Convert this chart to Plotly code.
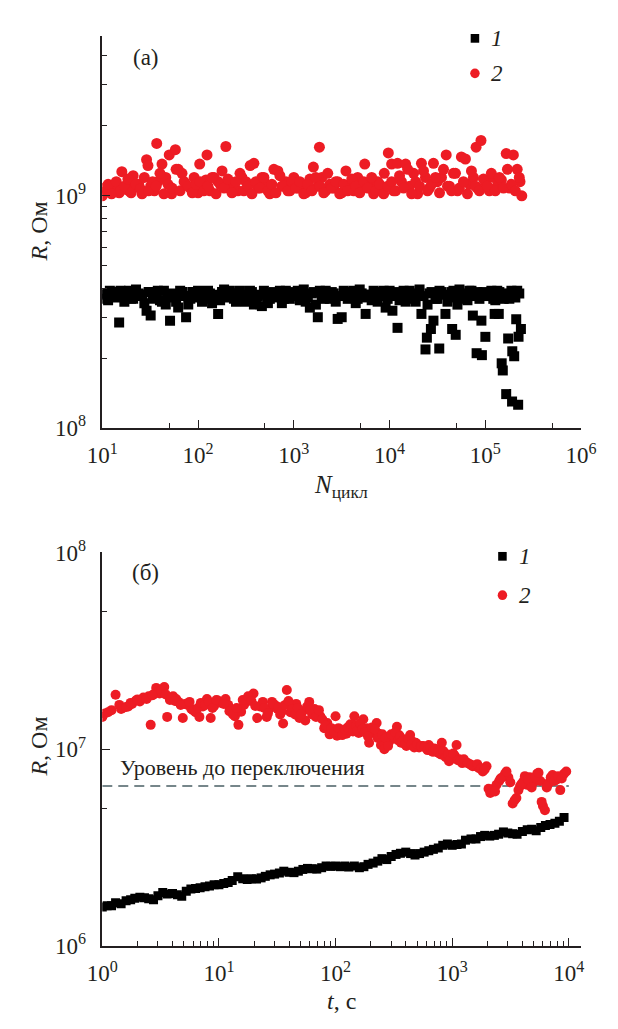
import plotly.graph_objects as go

# ---------------- (a) resistance vs. number of switching cycles ----------------
# state 1 (low-resistance), R in units of 1e8 Ohm
N_1 = [10, 11, 12, 13, 15, 16, 18, 19, 21, 24, 26, 29, 32, 35, 38, 42, 46, 51, 56, 62, 68, 75, 83, 91,
       100, 110, 121, 133, 147, 162, 178, 196, 215, 237, 261, 287, 316, 348, 383, 422, 464, 511, 562, 619,
       681, 750, 825, 909,
       1000, 1100, 1210, 1330, 1470, 1620, 1780, 1960, 2150, 2370, 2610, 2870, 3160, 3480, 3830, 4220, 4640,
       5110, 5620, 6190, 6810, 7500, 8250, 9090,
       10000, 10700, 11000, 12100, 13300, 14700, 16200, 17800, 19600, 21500, 23700, 24500, 26100, 27000,
       28700, 31600, 33000, 34800, 38300, 42200, 45000, 46400, 49000, 51100, 56200, 61900, 68100, 74000,
       75000, 81000, 82500, 90900, 92000,
       100000, 110000, 121000, 125000, 133000, 138000, 147000, 148000, 152000, 162000, 165000, 173000,
       178000, 190000, 191000, 196000, 200000, 210000, 215000, 220000, 222000, 235000,
       # intermediate cycles
       10.5, 11.5, 12.5, 14, 15.5, 17, 18.5, 20, 22.5, 25, 27.5, 30.5, 33.5, 36.5, 40, 44, 48.5, 53.5, 59,
       65, 71.5, 79, 87, 95.5,
       105, 115, 127, 140, 154, 170, 187, 205, 226, 249, 274, 301, 332, 365, 402, 443, 487, 536, 590, 650,
       715, 787, 867, 954,
       1050, 1155, 1270, 1400, 1545, 1700, 1870, 2055, 2260, 2490, 2740, 3015, 3320, 3655, 4025, 4430, 4875,
       5365, 5905, 6500, 7155, 7875, 8670, 9545,
       10500, 11550, 12700, 14000, 15450, 17000, 18700, 20550, 22600, 24900, 27400, 30150, 33200, 36550,
       40250, 44300, 48750, 53650, 59050, 65000, 71550, 78750, 86700, 95450,
       105000, 115500, 127000, 140000, 154500, 170000, 187000, 205500, 226000]
R_1 = [3.6, 3.8, 3.9, 3.7, 2.85, 3.85, 3.7, 3.9, 3.6, 3.8, 3.75, 3.2, 3.05, 3.8, 3.9, 3.5, 3.4, 2.9, 3.7,
       3.3, 3.85, 3.0, 3.6, 3.8,
       3.9, 3.5, 3.7, 3.8, 3.6, 3.1, 3.85, 3.7, 3.9, 3.6, 3.8, 3.75, 3.5, 3.9, 3.4, 3.7, 3.35, 3.8, 3.6,
       3.85, 3.7, 3.45, 3.9, 3.6,
       3.8, 3.9, 3.7, 3.5, 3.3, 3.85, 3.0, 3.7, 3.9, 3.6, 3.8, 2.95, 3.0, 3.85, 3.7, 3.9, 3.6, 3.8, 3.1,
       3.75, 3.9, 3.5, 3.8, 3.3,
       3.9, 3.2, 3.7, 2.7, 3.8, 3.5, 3.9, 3.6, 3.75, 3.1, 2.18, 2.45, 3.8, 2.67, 2.9, 3.6, 2.2, 3.85, 3.1,
       3.7, 2.67, 3.9, 2.52, 3.4, 3.8, 3.6, 3.9, 3.05, 3.7, 2.1, 3.85, 2.9, 2.06,
       2.47, 3.8, 3.6, 3.1, 3.9, 3.1, 3.7, 1.9, 1.77, 3.8, 1.4, 2.43, 3.6, 1.3, 2.14, 3.85, 2.04, 2.94,
       3.9, 1.26, 2.47, 2.67,
       # intermediate cycles
       3.75, 3.55, 3.85, 3.65, 3.9, 3.5, 3.8, 3.6, 3.95, 3.7, 3.45, 3.85, 3.6, 3.75, 3.55, 3.9, 3.65, 3.8,
       3.5, 3.9, 3.7, 3.4, 3.85, 3.65,
       3.8, 3.6, 3.9, 3.45, 3.75, 3.55, 3.95, 3.65, 3.8, 3.5, 3.9, 3.7, 3.6, 3.85, 3.55, 3.75, 3.9, 3.45,
       3.8, 3.65, 3.9, 3.6, 3.75, 3.85,
       3.7, 3.55, 3.95, 3.65, 3.8, 3.4, 3.9, 3.6, 3.75, 3.85, 3.5, 3.7, 3.9, 3.6, 3.8, 3.45, 3.95, 3.65,
       3.75, 3.55, 3.85, 3.7, 3.9, 3.6,
       3.75, 3.85, 3.55, 3.9, 3.65, 3.8, 3.5, 3.95, 3.7, 3.4, 3.85, 3.6, 3.9, 3.75, 3.5, 3.85, 3.65, 3.95,
       3.7, 3.55, 3.9, 3.8, 3.6, 3.85,
       3.7, 3.9, 3.55, 3.85, 3.6, 3.75, 3.9, 3.65, 3.8]

# state 2 (high-resistance), R in units of 1e9 Ohm
N_2 = [10, 11, 12, 13, 15, 16, 18, 19, 21, 24, 26, 29, 30, 32, 35, 37, 38, 42, 46, 50, 53, 58, 62, 68,
       75, 83, 91,
       100, 104, 110, 121, 124, 133, 147, 162, 178, 195, 215, 237, 261, 287, 316, 350, 383, 422, 464, 511,
       562, 619, 681, 750, 825, 909,
       1000, 1100, 1210, 1330, 1470, 1600, 1780, 1850, 1960, 2150, 2370, 2610, 2870, 3160, 3500, 3830, 4220,
       4640, 5110, 5500, 6190, 6810, 7500, 8250, 8800, 9700,
       10000, 10500, 11000, 12100, 13300, 14700, 16200, 17800, 19600, 21500, 23700, 26100, 28700, 31600,
       34800, 39000, 42200, 46400, 51100, 56200, 61900, 68100, 75000, 80000, 82500, 90000,
       100000, 110000, 121000, 133000, 147000, 165000, 178000, 196000, 215000, 230000, 240000,
       # intermediate cycles
       10.5, 11.5, 12.5, 14, 15.5, 17, 18.5, 20, 22.5, 25, 27.5, 30.5, 33.5, 36.5, 40, 44, 48.5, 53.5, 59,
       65, 71.5, 79, 87, 95.5,
       105, 115, 127, 140, 154, 170, 187, 205, 226, 249, 274, 301, 332, 365, 402, 443, 487, 536, 590, 650,
       715, 787, 867, 954,
       1050, 1155, 1270, 1400, 1545, 1700, 1870, 2055, 2260, 2490, 2740, 3015, 3320, 3655, 4025, 4430, 4875,
       5365, 5905, 6500, 7155, 7875, 8670, 9545,
       10500, 11550, 12700, 14000, 15450, 17000, 18700, 20550, 22600, 24900, 27400, 30150, 33200, 36550,
       40250, 44300, 48750, 53650, 59050, 65000, 71550, 78750, 86700, 95450,
       105000, 115500, 127000, 140000, 154500, 170000, 187000, 205500, 226000]
R_2 = [1.0, 1.05, 1.1, 1.08, 1.03, 1.27, 1.1, 1.05, 1.22, 1.12, 1.02, 1.43, 1.35, 1.1, 1.05, 1.68, 1.15,
       1.37, 1.2, 1.5, 1.02, 1.58, 1.3, 1.25, 1.12, 1.08, 1.2,
       1.03, 1.37, 1.1, 1.17, 1.5, 1.05, 1.2, 1.15, 1.28, 1.63, 1.07, 1.1, 1.05, 1.2, 1.15, 1.35, 1.38, 1.08,
       1.2, 1.12, 1.02, 1.3, 1.28, 1.1, 1.15, 1.05,
       1.2, 1.08, 1.12, 1.03, 1.18, 1.33, 1.1, 1.62, 1.2, 1.05, 1.12, 1.08, 1.15, 1.03, 1.28, 1.1, 1.05, 1.2,
       1.08, 1.37, 1.12, 1.02, 1.15, 1.05, 1.25, 1.53,
       1.1, 1.37, 1.05, 1.38, 1.15, 1.37, 1.1, 1.25, 1.02, 1.38, 1.2, 1.08, 1.38, 1.15, 1.2, 1.5, 1.1, 1.25,
       1.05, 1.47, 1.44, 1.12, 1.2, 1.62, 1.08, 1.73,
       1.15, 1.05, 1.2, 1.1, 1.17, 1.52, 1.08, 1.5, 1.3, 1.15, 1.0,
       # intermediate cycles
       1.08, 1.12, 1.02, 1.15, 1.05, 1.1, 1.18, 1.03, 1.12, 1.07, 1.2, 1.05, 1.15, 1.1, 1.25, 1.02, 1.12,
       1.08, 1.3, 1.05, 1.15, 1.1, 1.03, 1.12,
       1.15, 1.05, 1.1, 1.2, 1.02, 1.12, 1.08, 1.18, 1.03, 1.15, 1.25, 1.05, 1.1, 1.02, 1.15, 1.08, 1.2,
       1.05, 1.12, 1.03, 1.22, 1.1, 1.05, 1.15,
       1.08, 1.15, 1.02, 1.12, 1.05, 1.2, 1.1, 1.03, 1.25, 1.08, 1.15, 1.02, 1.12, 1.05, 1.18, 1.1, 1.03,
       1.15, 1.08, 1.2, 1.05, 1.12, 1.02, 1.1,
       1.15, 1.05, 1.22, 1.08, 1.3, 1.02, 1.15, 1.1, 1.28, 1.05, 1.12, 1.2, 1.03, 1.3, 1.1, 1.05, 1.25,
       1.08, 1.15, 1.02, 1.28, 1.1, 1.05, 1.18,
       1.1, 1.25, 1.05, 1.2, 1.08, 1.3, 1.12, 1.05, 1.2]

# ---------------- (б) resistance vs. time ----------------
# state 1, R in units of 1e6 Ohm
t_1 = [1.0, 1.1, 1.2, 1.3, 1.45, 1.6, 1.75, 1.9, 2.1, 2.3, 2.5, 2.75, 3.0, 3.3, 3.6, 4.0, 4.4, 4.8, 5.25,
       5.75, 6.3, 6.9, 7.6, 8.3, 9.1,
       10, 11, 12, 13, 14.5, 16, 17.5, 19, 21, 23, 25, 27.5, 30, 33, 36, 40, 44, 48, 52.5, 57.5, 63, 69, 76,
       83, 91,
       100, 110, 120, 130, 145, 160, 175, 190, 210, 230, 250, 275, 300, 330, 360, 400, 440, 480, 525, 575,
       630, 690, 760, 830, 910,
       1000, 1100, 1200, 1300, 1450, 1600, 1750, 1900, 2100, 2300, 2500, 2750, 3000, 3300, 3600, 4000, 4400,
       4800, 5250, 5750, 6300, 6900, 7600, 8300, 9100]
Rt_1 = [1.58, 1.6, 1.6, 1.66, 1.64, 1.7, 1.72, 1.75, 1.77, 1.76, 1.74, 1.72, 1.8, 1.87, 1.84, 1.85, 1.82,
        1.79, 1.9, 1.95, 1.96, 1.98, 2.0, 2.02, 2.05,
        2.05, 2.08, 2.1, 2.15, 2.25, 2.2, 2.18, 2.2, 2.19, 2.22, 2.26, 2.3, 2.32, 2.35, 2.4, 2.37, 2.36, 2.4,
        2.45, 2.48, 2.47, 2.46, 2.5, 2.55, 2.54,
        2.55, 2.53, 2.55, 2.52, 2.55, 2.5, 2.53, 2.6, 2.64, 2.7, 2.78, 2.75, 2.85, 2.92, 2.96, 3.0, 2.95, 2.9,
        2.95, 3.0, 3.05, 3.1, 3.15, 3.25, 3.3,
        3.25, 3.28, 3.3, 3.45, 3.5, 3.5, 3.6, 3.65, 3.62, 3.65, 3.7, 3.8, 3.75, 3.72, 3.7, 3.82, 3.9, 3.92,
        3.85, 4.0, 4.1, 4.15, 4.2, 4.3, 4.5]

# state 2, R in units of 1e6 Ohm
t_2 = [1.0, 1.05, 1.12, 1.3, 1.45, 1.5, 1.67, 1.8, 1.94, 2.1, 2.25, 2.5, 2.6, 2.75, 2.9, 3.0, 3.1, 3.25,
       3.4, 3.6, 3.8, 4.05, 4.3, 4.5, 4.9, 5.1, 5.4, 5.8, 6.3, 6.8, 7.3, 7.9, 8.5, 9.1, 9.8,
       10.5, 11.4, 12.0, 12.7, 13.7, 14.7, 15.5, 16.4, 17.3, 18.3, 19.8, 21.3, 22.5, 23.8, 25.7, 27, 28.5,
       30, 31.8, 33.5, 35.5, 38.2, 41, 44, 46, 49, 52, 55, 59.5, 63, 66, 70, 74, 80, 85, 89, 95,
       100, 103, 110, 117, 124, 130, 138, 145, 158, 165, 173, 185, 194, 200, 212, 225, 235, 245, 262, 275,
       290, 312, 336, 350, 364, 385, 405, 436, 460, 487, 520, 563, 600, 630, 665, 703, 740, 787, 815, 860,
       900, 940,
       1000, 1050, 1090, 1150, 1220, 1300, 1420, 1500, 1580, 1700, 1830, 1970, 2120, 2200, 2270, 2400, 2530,
       2700, 2840, 3030, 3300, 3550, 3820, 4100, 4350, 4620, 5000, 5350, 5700, 6000, 6240, 6470, 6800,
       7250, 7800, 8450, 9100, 9500,
       # intermediate readings
       1.2, 1.4, 1.6, 1.75, 2.0, 2.4, 2.7, 3.2, 3.5, 3.9,
       4.2, 4.7, 5.6, 6.0, 6.6, 7.0, 7.6, 8.2, 8.8, 9.5,
       11.0, 12.3, 13.2, 14.2, 16.0, 17.8, 19.0, 20.5, 24.5, 26.3,
       29.2, 32.5, 34.5, 37, 39.5, 42.5, 45, 47.5, 50.5, 57,
       61, 68, 72, 77, 82, 92, 98, 106, 114, 120,
       127, 134, 141, 150, 154, 162, 170, 178, 190, 205,
       218, 230, 252, 268, 282, 300, 325, 343, 357, 375,
       395, 420, 448, 473, 500, 540, 580, 615, 650, 685,
       720, 760, 800, 840, 880, 920, 970, 1020, 1120, 1180,
       1260, 1360, 1460, 1640, 1760, 1900, 2050, 2330, 2600, 2920,
       3150, 3430, 3700, 3950, 4200, 4480, 4800, 5150, 5500, 5850,
       6600, 7000, 7500, 8100, 8700]
Rt_2 = [14.6, 15.2, 15.4, 18.9, 16.0, 16.2, 16.5, 17.0, 17.7, 17.5, 18.3, 18.6, 13.3, 19.0, 20.5, 19.5,
        19.2, 20.0, 20.7, 14.6, 17.8, 18.6, 18.0, 17.4, 14.4, 17.0, 16.8, 16.0, 15.4, 14.6, 16.5, 18.0,
        14.4, 16.6, 17.7,
        17.2, 18.0, 16.8, 16.0, 14.7, 13.3, 15.5, 16.8, 17.5, 18.3, 19.2, 14.4, 16.5, 17.4, 14.6, 16.0,
        17.4, 16.8, 16.0, 15.0, 13.5, 20.0, 15.4, 16.5, 17.0, 14.4, 15.5, 14.0, 17.4, 15.0, 16.0, 15.2,
        14.7, 12.8, 13.6, 11.9, 12.5,
        14.7, 11.7, 12.2, 12.4, 12.0, 13.0, 12.6, 14.7, 12.1, 13.0, 14.2, 12.8, 10.8, 12.1, 12.5, 13.6,
        12.0, 10.5, 10.0, 11.3, 11.0, 11.5, 13.0, 11.8, 10.8, 11.2, 10.4, 11.8, 10.9, 10.8, 10.2, 10.4,
        10.1, 10.5, 9.8, 10.1, 9.9, 9.5, 10.8, 9.3, 9.2, 8.7,
        9.0, 9.3, 10.5, 8.9, 8.5, 8.6, 8.4, 8.2, 8.2, 8.0, 7.7, 8.2, 6.0, 6.2, 6.3, 6.6, 6.9, 7.2, 7.5,
        7.2, 5.3, 5.65, 6.5, 6.9, 6.6, 7.2, 6.8, 7.5, 6.9, 5.15, 4.9, 6.4, 6.8, 7.4, 7.0, 6.2, 7.5, 7.7,
        # intermediate readings
        15.8, 16.8, 16.4, 17.2, 17.9, 18.0, 18.8, 19.8, 19.0, 18.2,
        17.6, 16.8, 17.4, 15.8, 16.2, 17.2, 16.8, 17.4, 16.2, 17.8,
        17.0, 15.6, 15.0, 16.2, 17.8, 18.6, 17.6, 16.6, 16.2, 15.2,
        17.0, 16.4, 15.5, 16.8, 17.6, 16.0, 15.0, 16.2, 15.0, 16.5,
        15.8, 14.6, 15.8, 14.2, 13.2, 12.8, 12.2, 12.8, 11.8, 12.6,
        12.9, 13.4, 12.3, 13.2, 12.5, 13.5, 12.7, 12.2, 11.6, 12.9,
        12.6, 11.4, 11.9, 11.4, 10.4, 11.9, 12.2, 11.1, 11.6, 11.0,
        10.6, 11.3, 10.6, 10.2, 10.6, 10.4, 10.3, 9.9, 10.2, 9.7,
        10.0, 9.6, 9.4, 9.8, 9.1, 9.4, 8.9, 9.5, 8.8, 8.7,
        8.9, 8.5, 8.3, 8.4, 8.0, 7.9, 6.3, 6.1, 7.1, 7.7,
        6.8, 5.5, 6.2, 6.7, 7.3, 7.0, 6.4, 7.2, 7.6, 5.4,
        6.6, 7.2, 6.9, 7.3, 7.1]

# resistance level before switching (dashed reference line)
R_before = 6.5e6
t_line = [1, 1e4]

SERIES_1 = "1"
SERIES_2 = "2"
PANEL_A = "(a)"
PANEL_B = "(б)"
LEVEL_TEXT = "Уровень до переключения"

# ---------------- styling ----------------
W, H = 618, 1029
FONT = "Liberation Serif, Times New Roman, DejaVu Serif, serif"
INK = "#231f20"
RED = "#ED1C24"
BLACK = "#000000"


def px(x):
    return x / W


def py(y):
    return 1 - y / H


def sup(k):
    return f"10<sup>{k}</sup>"


fig = go.Figure()

fig.add_trace(go.Scatter(x=N_1, y=[v * 1e8 for v in R_1], mode="markers", name=SERIES_1,
                         marker=dict(symbol="square", size=10, color=BLACK),
                         xaxis="x", yaxis="y", showlegend=False))
fig.add_trace(go.Scatter(x=N_2, y=[v * 1e9 for v in R_2], mode="markers", name=SERIES_2,
                         marker=dict(symbol="circle", size=11, color=RED),
                         xaxis="x", yaxis="y", showlegend=False))

fig.add_trace(go.Scatter(x=t_line, y=[R_before, R_before], mode="lines",
                         line=dict(color="#76868a", width=2, dash="10px,6px"),
                         xaxis="x2", yaxis="y2", showlegend=False, hoverinfo="skip"))
fig.add_trace(go.Scatter(x=t_2, y=[v * 1e6 for v in Rt_2], mode="markers", name=SERIES_2,
                         marker=dict(symbol="circle", size=10, color=RED),
                         xaxis="x2", yaxis="y2", showlegend=False))
fig.add_trace(go.Scatter(x=t_1, y=[v * 1e6 for v in Rt_1], mode="markers", name=SERIES_1,
                         marker=dict(symbol="square", size=9, color=BLACK),
                         xaxis="x2", yaxis="y2", showlegend=False))

axis_common = dict(type="log", showline=True, linecolor=INK, linewidth=1.5, showgrid=False,
                   zeroline=False, ticks="inside", ticklen=8, tickwidth=1.3, tickcolor=INK,
                   tickmode="array", tickfont=dict(family=FONT, size=23, color=INK))

x_dom = [px(91), px(596)]

fig.update_layout(
    width=W, height=H, autosize=False,
    margin=dict(l=0, r=0, t=0, b=0),
    paper_bgcolor="white", plot_bgcolor="white",
    font=dict(family=FONT, size=22, color=INK),
    xaxis=dict(axis_common, domain=x_dom, range=[1, 6], anchor="y",
               tickvals=[10 ** k for k in range(1, 7)], ticktext=[sup(k) for k in range(1, 7)],
               ticklabelstandoff=6,
               minor=dict(ticks="inside", ticklen=5, tickwidth=1.2, tickcolor=INK,
                          tickmode="array", tickvals=[5 * 10 ** k for k in range(1, 6)])),
    yaxis=dict(axis_common, domain=[py(424), py(21)], range=[8, 8 + (424 - 21) / 239], anchor="x",
               tickvals=[1e8, 1e9], ticktext=[sup(8), sup(9)], ticklabelstandoff=10,
               minor=dict(ticks="inside", ticklen=5, tickwidth=1.2, tickcolor=INK, tickmode="array",
                          tickvals=[m * 1e8 for m in range(2, 10)] + [m * 1e9 for m in range(2, 5)])),
    xaxis2=dict(axis_common, domain=x_dom, range=[0, (596 - 91) / 123], anchor="y2",
                tickvals=[10 ** k for k in range(0, 5)], ticktext=[sup(k) for k in range(0, 5)],
                ticklabelstandoff=6,
                minor=dict(ticks="inside", ticklen=5, tickwidth=1.2, tickcolor=INK, tickmode="array",
                           tickvals=[m * 10 ** k for k in range(0, 4) for m in range(2, 10)])),
    yaxis2=dict(axis_common, domain=[py(957), py(552)], range=[6, 8], anchor="x2",
                tickvals=[1e6, 1e7, 1e8], ticktext=[sup(6), sup(7), sup(8)], ticklabelstandoff=10,
                minor=dict(ticks="inside", ticklen=5, tickwidth=1.2, tickcolor=INK, tickmode="array",
                           tickvals=[5e6, 5e7])),
)

ann = []


def text(x, y, s, size=22, xanchor="center", angle=0):
    ann.append(dict(x=px(x), y=py(y), xref="paper", yref="paper", text=s, showarrow=False,
                    xanchor=xanchor, yanchor="middle", textangle=angle,
                    font=dict(family=FONT, size=size, color=INK)))


# axis titles
text(24, 222, "<i>R</i>, Ом", size=24, angle=-90)
text(24, 752, "<i>R</i>, Ом", size=24, angle=-90)
text(343, 484, "<i>N</i><sub>цикл</sub>", size=25)
text(343, 1014, "<i>t</i>, с", size=24)

# panel labels
text(137, 43, PANEL_A, size=23)
text(137, 573, PANEL_B, size=23)

# level label
text(108, 773, LEVEL_TEXT, size=22, xanchor="left")

# legend keys
shapes = []


def key(x, y, kind, color, size):
    h = size / 2
    shapes.append(dict(type="rect" if kind == "square" else "circle", xref="paper", yref="paper",
                       x0=px(x - h), x1=px(x + h), y0=py(y + h), y1=py(y - h),
                       fillcolor=color, line=dict(width=0)))


key(484, 23, "square", BLACK, 9)
key(484, 59, "circle", RED, 10)
text(499, 23, f"<i>{SERIES_1}</i>", size=23, xanchor="left")
text(499, 59, f"<i>{SERIES_2}</i>", size=23, xanchor="left")

key(513, 556, "square", BLACK, 9)
key(513, 596, "circle", RED, 10)
text(528, 556, f"<i>{SERIES_1}</i>", size=23, xanchor="left")
text(528, 596, f"<i>{SERIES_2}</i>", size=23, xanchor="left")

fig.update_layout(annotations=ann, shapes=shapes)

fig.write_html("out.html")
